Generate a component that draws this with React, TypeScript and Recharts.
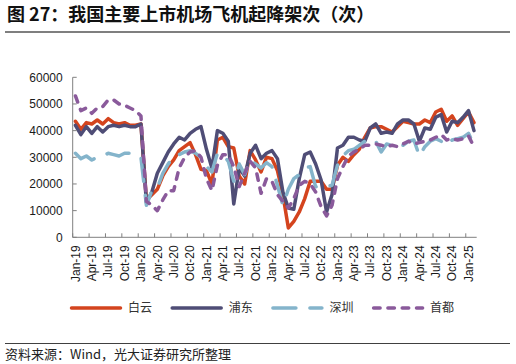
import React from "react";
import { LineChart, Line, XAxis, YAxis, Legend } from "recharts";

// 月份：Jan-19 ~ Feb-25，共 74 个月
const monthNames = ["Jan", "Feb", "Mar", "Apr", "May", "Jun", "Jul", "Aug", "Sep", "Oct", "Nov", "Dec"];
const years = ["19", "20", "21", "22", "23", "24", "25"];
const months: string[] = years.flatMap((y) => monthNames.map((m) => `${m}-${y}`)).slice(0, 74);

const tickLabels = [
  "Jan-19", "Apr-19", "Jul-19", "Oct-19", "Jan-20", "Apr-20", "Jul-20", "Oct-20",
  "Jan-21", "Apr-21", "Jul-21", "Oct-21", "Jan-22", "Apr-22", "Jul-22", "Oct-22",
  "Jan-23", "Apr-23", "Jul-23", "Oct-23", "Jan-24", "Apr-24", "Jul-24", "Oct-24", "Jan-25",
];
const yTicks = [0, 10000, 20000, 30000, 40000, 50000, 60000];

const baiyun = [
  43500, 40500, 43000, 42500, 44000, 42500, 44500, 43000, 42500, 43000, 42000, 42000,
  42500, 14000, 16000, 18000, 23000, 26500, 29000, 32500, 34000, 35500, 31000, 25500,
  25000, 20000, 36500, 37500, 34000, 33500, 23000, 20000, 32500, 29000, 24500, 30000,
  29500, 25000, 16000, 3500, 6000, 9500, 14500, 21000, 21000, 21000, 18000, 18000,
  27000, 30000, 28500, 31000, 33000, 37500, 41000, 41500, 41500, 40500, 39500, 41500,
  43500, 43000, 42500, 42500, 44000, 43000, 47000, 48000, 43500, 45500, 42000, 44500,
  47000, 43000,
];
const pudong = [
  42000, 38500, 41500, 39000, 41500, 39500, 41500, 42000, 41500, 42000, 41500, 41500,
  42500, 13000, 17000, 24000, 28000, 32000, 35000, 37500, 36500, 39000, 40500, 41500,
  33000, 26000, 40000, 39000, 36000, 12500, 26000, 23000, 31500, 34500, 29500, 31500,
  32500, 29500, 17000, 11000, 10500, 22000, 31000, 32000, 27500, 21500, 9500, 16000,
  33500, 34500, 37500, 37500, 36500, 36000, 41000, 42500, 39000, 39500, 39000, 42500,
  44000, 44000, 42500, 36000, 41000, 40500, 45000, 46000, 39500, 43500, 43000, 45000,
  47500, 40000,
];
const shenzhen = [
  31500, 29500, 30500, 29000, 30000, 30500, 31500, 31000, 30500, 31500, 31500, 31000,
  30000, 12000, 17500, 18500, 24000, 27500, 30500, 31000, 32000, 32500, 31500, 30000,
  26500, 24500, 31500, 31000, 28500, 21000, 27500, 23500, 29000, 27500, 26000, 28000,
  26500, 19500, 12000, 18000, 22000, 23500, 26000, 26500, 19000, 19000, 19000, 19500,
  27000, 30500, 32500, 33000, 34500, 36000, 35000, 36000, 32000, 35000, 34500, 34000,
  34500, 36000, 36500, 30500, 34000, 36000, 37000, 36000, 34500, 36500, 37000, 37500,
  39000, 34500,
];
const capital = [
  53000, 47500, 48500, 46500, 48500, 49000, 51500, 51500, 50000, 49500, 48500, 47500,
  45500, 13500, 12000, 10000, 14000, 17500, 17500, 26000, 30000, 32000, 32500, 30000,
  22000, 17500, 27000, 31000, 31000, 26500, 19000, 24000, 28500, 26000, 16500, 22000,
  21000, 16000, 13500, 11000, 14500, 19500, 21000, 20000, 17000, 11500, 8000, 12000,
  22000, 26500, 30500, 32000, 33000, 34500, 34500, 35000, 34500, 34000, 34500, 34000,
  35000, 36000, 35000, 35500, 36000, 36500, 37500, 38500, 36500, 37000, 36500, 37000,
  38000, 34000,
];

const data = months.map((m, i) => ({
  idx: i,
  month: m,
  baiyun: baiyun[i],
  pudong: pudong[i],
  shenzhen: shenzhen[i],
  capital: capital[i],
}));

const seriesDefs = [
  { key: "baiyun", name: "白云", color: "#D4441E", dash: undefined as string | undefined },
  { key: "pudong", name: "浦东", color: "#4F4D76", dash: undefined as string | undefined },
  { key: "shenzhen", name: "深圳", color: "#84B4CB", dash: "23 14" },
  { key: "capital", name: "首都", color: "#8A5A9B", dash: "6.5 7.8" },
];

// 布局
const W = 516;
const H = 364;
const plotLeft = 72.7;
const plotRight = 476.7;
const plotTop = 77.3;
const plotBottom = 237.3;
const yAxisW = 60;
const xAxisH = 50;
const half = (plotRight - plotLeft) / months.length / 2;

const latin = "'Liberation Sans', Arial, sans-serif";
const cjk = "'Noto Sans CJK SC', 'Noto Sans', sans-serif";
const axisColor = "#808080";

const XTick = (props: any) => {
  const { x, y, payload } = props;
  const ty = y + 8;
  return (
    <g>
      <line x1={x - half} x2={x - half} y1={y} y2={y - 4} stroke={axisColor} strokeWidth={1} />
      <text
        x={x}
        y={ty}
        transform={`rotate(-90, ${x}, ${ty})`}
        textAnchor="end"
        dy="0.35em"
        fontSize={12}
        fontFamily={latin}
        fill="#1a1a1a"
      >
        {months[payload.value]}
      </text>
    </g>
  );
};

const YTick = (props: any) => {
  const { x, y, payload } = props;
  return (
    <g>
      <line x1={x + 10} x2={x + 14} y1={y} y2={y} stroke={axisColor} strokeWidth={1} />
      <text x={x} y={y} textAnchor="end" dy="0.35em" fontSize={12} fontFamily={latin} fill="#1a1a1a">
        {payload.value}
      </text>
    </g>
  );
};

const LegendContent = () => (
  <svg width={W} height={22}>
    {seriesDefs.map((s, i) => {
      const x0 = 70 + i * 100.7;
      return (
        <g key={s.key}>
          <line
            x1={x0 + 1.5}
            x2={x0 + 50.5}
            y1={11}
            y2={11}
            stroke={s.color}
            strokeWidth={3.5}
            strokeLinecap="round"
            strokeDasharray={s.dash}
          />
          <text x={x0 + 58} y={11} dy="0.36em" fontSize={12} fontFamily={cjk} fill="#333">
            {s.name}
          </text>
        </g>
      );
    })}
  </svg>
);

export default function App() {
  return (
    <div
      style={{
        position: "absolute",
        left: 0,
        top: 0,
        width: W,
        height: H,
        background: "#fff",
        overflow: "hidden",
      }}
    >
      <div
        style={{
          position: "absolute",
          left: 7,
          top: 1,
          fontSize: 18,
          lineHeight: "24px",
          fontWeight: 700,
          fontFamily: cjk,
          color: "#111",
          whiteSpace: "nowrap",
        }}
      >
        图 27：我国主要上市机场飞机起降架次（次）
      </div>
      <div style={{ position: "absolute", left: 5, top: 31, width: 505, height: 2, background: "#7f7f7f" }} />

      <div style={{ position: "absolute", left: 0, top: 0 }}>
        <LineChart
          width={W}
          height={H}
          data={data}
          margin={{
            top: plotTop,
            right: W - plotRight,
            left: plotLeft - yAxisW,
            bottom: H - plotBottom - xAxisH,
          }}
        >
          <XAxis
            dataKey="idx"
            type="number"
            domain={[-0.5, months.length - 0.5]}
            ticks={tickLabels.map((l) => months.indexOf(l))}
            interval={0}
            height={xAxisH}
            tickSize={0}
            tickMargin={0}
            tickLine={false}
            axisLine={{ stroke: axisColor, strokeWidth: 1 }}
            tick={<XTick />}
          />
          <YAxis
            domain={[0, 60000]}
            ticks={yTicks}
            interval={0}
            width={yAxisW}
            tickSize={0}
            tickMargin={10}
            tickLine={false}
            axisLine={{ stroke: axisColor, strokeWidth: 1 }}
            tick={<YTick />}
          />
          <Legend
            layout="horizontal"
            verticalAlign="middle"
            align="center"
            wrapperStyle={{ top: 297, left: 0, width: W, height: 22 }}
            content={<LegendContent />}
          />
          {seriesDefs.map((s) => (
            <Line
              key={s.key}
              type="linear"
              dataKey={s.key}
              name={s.name}
              stroke={s.color}
              strokeWidth={3.5}
              strokeDasharray={s.dash}
              strokeLinecap="round"
              strokeLinejoin="round"
              dot={false}
              activeDot={false}
              isAnimationActive={false}
            />
          ))}
        </LineChart>
      </div>

      <div style={{ position: "absolute", left: 5, top: 342.5, width: 505, height: 1.5, background: "#404040" }} />
      <div
        style={{
          position: "absolute",
          left: 5,
          top: 344.5,
          fontSize: 13,
          lineHeight: "17px",
          fontFamily: cjk,
          color: "#222",
          whiteSpace: "nowrap",
        }}
      >
        资料来源：Wind，光大证券研究所整理
      </div>
    </div>
  );
}
